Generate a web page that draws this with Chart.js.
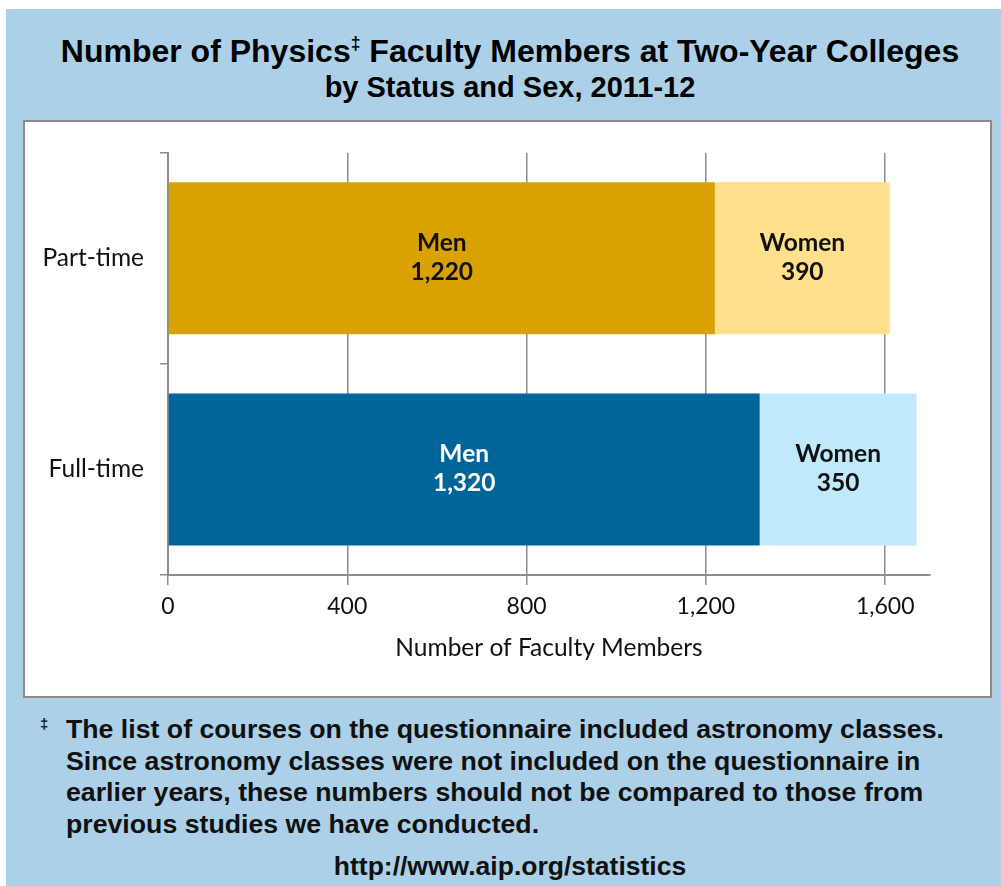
<!DOCTYPE html>
<html>
<head>
<meta charset="utf-8">
<script src="https://cdn.jsdelivr.net/npm/chart.js@4.4.1/dist/chart.umd.min.js"></script>
<style>
  html, body { margin:0; padding:0; background:#fff; }
  body { width:1001px; height:886px; position:relative; overflow:hidden; }
  #bg { position:absolute; left:6px; top:9px; right:0; bottom:0; background:#abd0e7; }
  .title { position:absolute; left:0; width:1020px; text-align:center; font-family:"Liberation Sans", Arial, sans-serif; font-weight:bold; color:#000; white-space:nowrap; }
  #t1 { top:33px; font-size:32px; line-height:36px; }
  #t2 { top:71px; font-size:29px; line-height:32px; }
  sup { font-size:0.55em; vertical-align:0.75em; line-height:0; }
  #panel { position:absolute; left:23px; top:120px; width:965px; height:574px; background:#fff; border:2px solid #8a8a8a; box-shadow:1px 1px 0 #c8c8c8; }
  #wrap { position:absolute; left:0; top:0; width:965px; height:574px; }
  #note { position:absolute; left:40px; top:714px; font-family:"Liberation Sans", Arial, sans-serif; font-weight:bold; font-size:26.7px; line-height:31.5px; color:#111; white-space:nowrap; }
  #note .mark { position:absolute; left:0; top:-6px; font-size:15px; }
  #note .txt { margin-left:26px; }
  #url { position:absolute; left:0; width:1020px; top:850px; text-align:center; font-family:"Liberation Sans", Arial, sans-serif; font-weight:bold; font-size:26.5px; line-height:32px; color:#111; }
</style>
</head>
<body>
<div id="bg"></div>
<div class="title" id="t1">Number of Physics<sup>‡</sup> Faculty Members at Two-Year Colleges</div>
<div class="title" id="t2">by Status and Sex, 2011-12</div>
<div id="panel"><div id="wrap"><canvas id="chart"></canvas></div></div>
<div id="note"><span class="mark">‡</span><div class="txt">The list of courses on the questionnaire included astronomy classes.<br>Since astronomy classes were not included on the questionnaire in<br>earlier years, these numbers should not be compared to those from<br>previous studies we have conducted.</div></div>
<div id="url">http://www.aip.org/statistics</div>
<script>
const categories = ["Part-time", "Full-time"];
const menValues = [1220, 1320];
const womenValues = [390, 350];
const xTicks = [0, 400, 800, 1200, 1600];

const menColors = ["#d9a102", "#006699"];
const womenColors = ["#fedf8b", "#c0e9fc"];
const menText = ["#111", "#fff"];

const fmt = v => v.toLocaleString("en-US");
const font = "Lato, 'Open Sans', sans-serif";

// draws "Men / 1,220" inside each bar
const barLabels = {
  id: "barLabels",
  afterDatasetsDraw(c){
    const ctx = c.ctx;
    ctx.save();
    ctx.font = "bold 24.5px " + font;
    ctx.textAlign = "center";
    ctx.textBaseline = "middle";
    c.data.datasets.forEach((ds, di) => {
      c.getDatasetMeta(di).data.forEach((bar, i) => {
        const cx = (bar.x + bar.base) / 2;
        ctx.fillStyle = di === 0 ? menText[i] : "#111";
        ctx.fillText(ds.label, cx, bar.y - 15);
        ctx.fillText(fmt(ds.data[i]), cx, bar.y + 14);
      });
    });
    ctx.restore();
  }
};

const gridGray = "#8c8c8c";

new Chart(document.getElementById("chart"), {
  type: "bar",
  data: {
    labels: categories,
    datasets: [
      { label: "Men", data: menValues, backgroundColor: menColors, borderWidth: 0 },
      { label: "Women", data: womenValues, backgroundColor: womenColors, borderWidth: 0 }
    ]
  },
  options: {
    indexAxis: "y",
    responsive: true,
    maintainAspectRatio: false,
    animation: false,
    layout: { padding: { left: 0, right: 60, top: 27, bottom: 0 } },
    datasets: { bar: { categoryPercentage: 0.72, barPercentage: 1.0 } },
    plugins: { legend: { display: false }, tooltip: { enabled: false } },
    scales: {
      x: {
        stacked: true,
        min: 0, max: 1700,
        afterBuildTicks: ax => { ax.ticks = xTicks.map(v => ({ value: v })); },
        ticks: { color: "#111", font: { family: font, size: 23 }, padding: 8, callback: v => fmt(v) },
        grid: { color: gridGray, lineWidth: 1.5, tickLength: 10, drawOnChartArea: true },
        border: { color: gridGray, width: 2 },
        title: { display: true, text: "Number of Faculty Members", color: "#111", font: { family: font, size: 24.5 }, padding: { top: 4, bottom: 33 } },
        afterFit: ax => { ax.height = 121; }
      },
      y: {
        stacked: true,
        ticks: { color: "#111", font: { family: font, size: 24.5 }, padding: 16 },
        grid: { color: gridGray, lineWidth: 1.5, tickLength: 8, drawOnChartArea: false, offset: true },
        border: { color: gridGray, width: 2 },
        afterFit: ax => { ax.width = 143; }
      }
    }
  },
  plugins: [barLabels]
});
</script>
</body>
</html>
